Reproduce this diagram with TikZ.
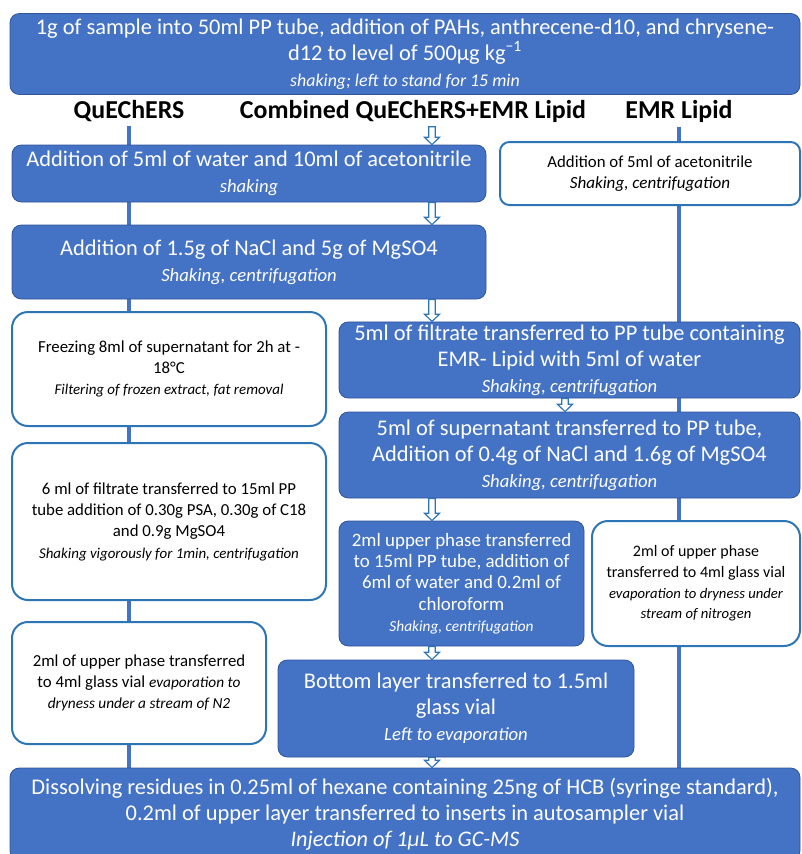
\documentclass[tikz,border=0pt]{standalone}
\usepackage{fontspec}
\setmainfont{Carlito}
\usetikzlibrary{calc,backgrounds}
\definecolor{boxblue}{HTML}{4472C4}
\definecolor{edgeblue}{HTML}{2F5597}
\definecolor{lineblue}{HTML}{2E75B6}
\newcommand{\subtxt}[2]{{\fontsize{#1}{#1}\selectfont\itshape #2}}

\tikzset{
  boxsize/.style 2 args={minimum width=#1*0.75pt, minimum height=#2*0.75pt},
  fillbox/.style={draw=edgeblue, line width=0.6pt, fill=boxblue, text=white,
    rounded corners=7pt, align=center, inner sep=2pt, font=\fontsize{16.8}{19.5}\selectfont},
  openbox/.style={draw=lineblue, line width=1.5pt, fill=white, text=black,
    rounded corners=12pt, align=center, inner sep=2pt, font=\fontsize{12.6}{16}\selectfont},
  head/.style={font=\fontsize{19.4}{22}\selectfont\bfseries},
  link/.style={draw=boxblue, line width=2.6pt},
  hollow/.style={draw=lineblue, fill=white, line width=0.9pt,
    to path={let \p1=(\tikztostart), \p2=(\tikztotarget) in
      (\x1-2.5pt,\y1) -- (\x1-2.5pt,\y2+5.5pt) -- (\x1-5.6pt,\y2+5.5pt) -- (\x1,\y2)
      -- (\x1+5.6pt,\y2+5.5pt) -- (\x1+2.5pt,\y2+5.5pt) -- (\x1+2.5pt,\y1) -- cycle}},
}

\begin{document}
\begin{tikzpicture}[x=0.75pt, y=-0.75pt]
  \useasboundingbox (0,0) rectangle (802,854);

  % start
  \node[fillbox, boxsize={790}{81}] (top) at (405,54)
    {1g of sample into 50ml PP tube, addition of PAHs, anthrecene-d10, and chrysene-\\
     d12 to level of 500µg kg\textsuperscript{−1}\\
     \subtxt{13.4}{shaking; left to stand for 15 min}};

  % column heads
  \node[head] (hq) at (129,111) {QuEChERS};
  \node[head] (hc) at (413,111) {Combined QuEChERS+EMR Lipid};
  \node[head] (he) at (679,111) {EMR Lipid};
  \coordinate (ax) at (432,0);
  \coordinate (ex) at (565,0);

  % steps
  \node[fillbox, boxsize={474}{57}] (A) at (249,173.5)
    {Addition of 5ml of water and 10ml of acetonitrile\\ \subtxt{14}{shaking}};
  \node[openbox, boxsize={300}{63}, rounded corners=7pt] (B) at (650,173.5)
    {Addition of 5ml of acetonitrile\\ \subtxt{12.8}{Shaking, centrifugation}};
  \node[fillbox, boxsize={474}{74}] (C) at (249,262)
    {Addition of 1.5g of NaCl and 5g of MgSO4\\ \subtxt{14}{Shaking, centrifugation}};
  \node[openbox, boxsize={314}{114}] (D) at (169,369)
    {Freezing 8ml of supernatant for 2h at -\\ 18°C\\
     \subtxt{11.2}{Filtering of frozen extract, fat removal}};
  \node[fillbox, boxsize={461}{76}] (E) at (569.5,360)
    {5ml of filtrate transferred to PP tube containing\\ EMR- Lipid with 5ml of water\\
     \subtxt{14}{Shaking, centrifugation}};
  \node[fillbox, boxsize={461}{86}] (F) at (569.5,455)
    {5ml of supernatant transferred to PP tube,\\ Addition of 0.4g of NaCl and 1.6g of MgSO4\\
     \subtxt{14}{Shaking, centrifugation}};
  \node[openbox, boxsize={314}{157}] (G) at (169,521.5)
    {6 ml of filtrate transferred to 15ml PP\\ tube addition of 0.30g PSA, 0.30g of C18\\
     and 0.9g MgSO4\\ \subtxt{11.2}{Shaking vigorously for 1min, centrifugation}};
  \node[fillbox, boxsize={245}{125}, font=\fontsize{14.2}{16}\selectfont] (H) at (461.5,583.5)
    {2ml upper phase transferred\\ to 15ml PP tube, addition of\\ 6ml of water and 0.2ml of\\
     chloroform\\ \subtxt{11.5}{Shaking, centrifugation}};
  \node[openbox, boxsize={208}{125}, font=\fontsize{12}{15.5}\selectfont] (I) at (696,583.5)
    {2ml of upper phase\\ transferred to 4ml glass vial\\
     \subtxt{11}{evaporation to dryness under}\\ \subtxt{11}{stream of nitrogen}};
  \node[openbox, boxsize={254}{122}] (J) at (139,683)
    {2ml of upper phase transferred\\ to 4ml glass vial \subtxt{11.5}{evaporation to}\\
     \subtxt{11.5}{dryness under a stream of N2}};
  \node[fillbox, boxsize={356}{97}] (K) at (456,708.5)
    {Bottom layer transferred to 1.5ml\\ glass vial\\ \subtxt{14}{Left to evaporation}};
  \node[fillbox, boxsize={790}{92}] (L) at (405,814)
    {Dissolving residues in 0.25ml of hexane containing 25ng of HCB (syringe standard),\\
     0.2ml of upper layer transferred to inserts in autosampler vial\\
     \subtxt{16.7}{Injection of 1µL to GC-MS}};

  % side lines
  \begin{scope}[on background layer]
    \draw[link] (hq.south) -- (hq.south |- L.north);
    \draw[link] (he.south) -- (he.south |- L.north);
  \end{scope}

  % combined route
  \draw[hollow] (hc.south -| ax) to (A.north -| ax);
  \draw[hollow] (A.south -| ax) to (C.north -| ax);
  \draw[hollow] (C.south -| ax) to (E.north -| ax);
  \draw[hollow] (E.south -| ex) to (F.north -| ex);
  \draw[hollow] (F.south -| ax) to (H.north -| ax);
  \draw[hollow] (H.south -| ax) to (K.north -| ax);
  \draw[hollow] (K.south -| ax) to (L.north -| ax);
\end{tikzpicture}
\end{document}
